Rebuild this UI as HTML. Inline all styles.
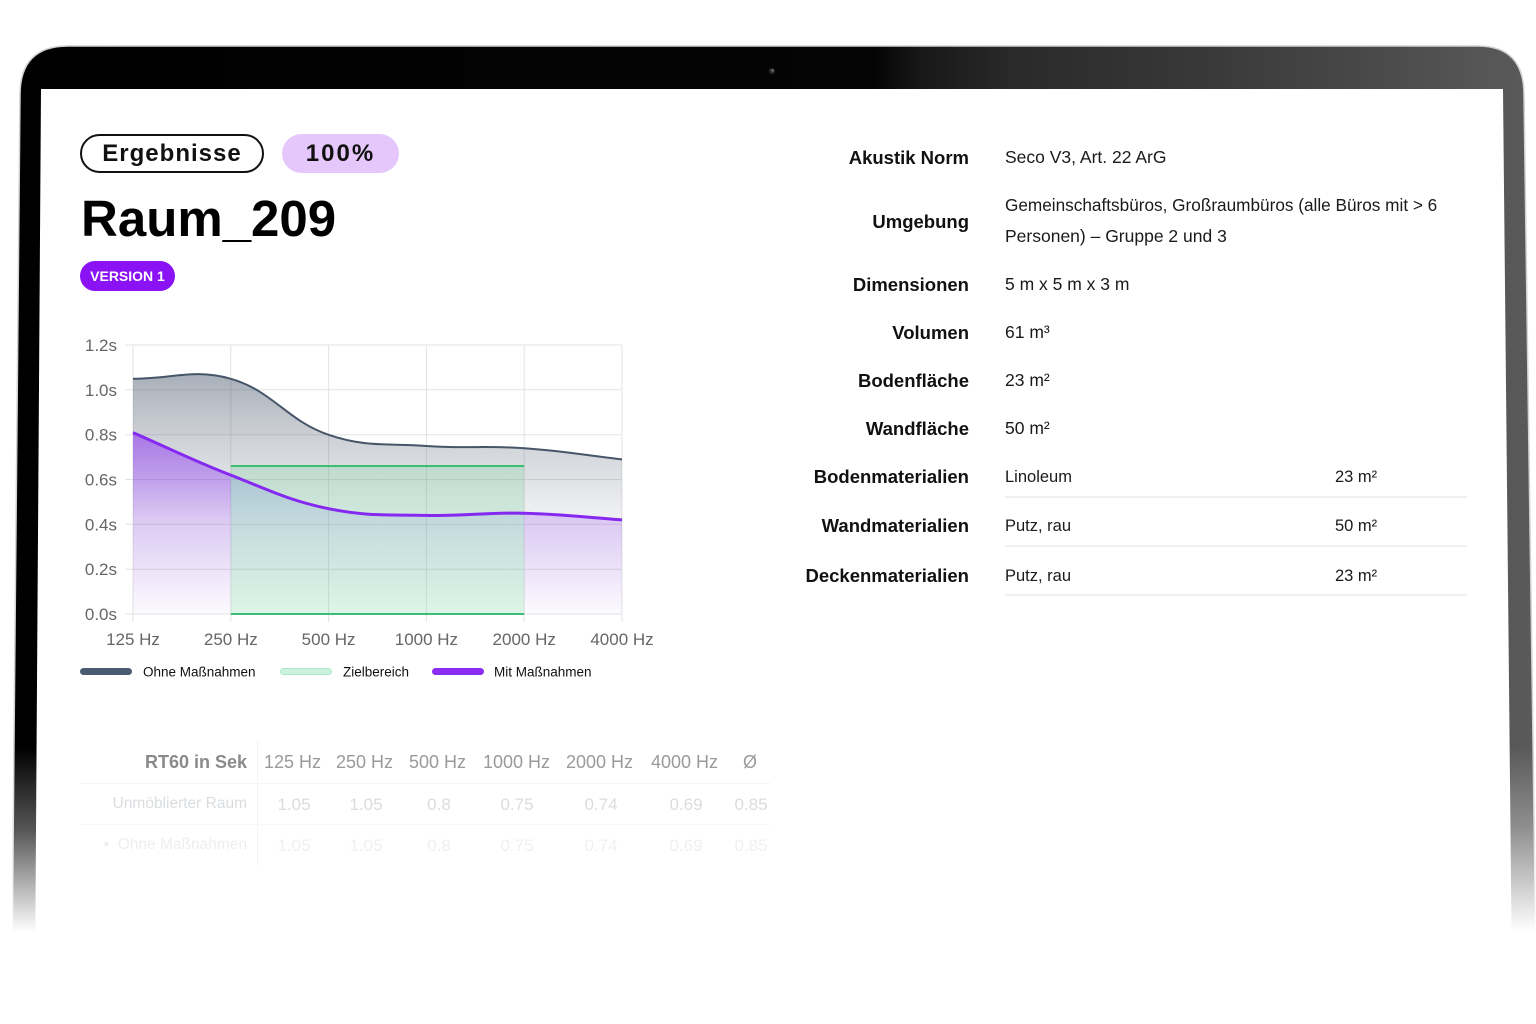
<!DOCTYPE html>
<html>
<head>
<meta charset="utf-8">
<style>
  html,body{margin:0;padding:0;background:#fff;}
  body{width:1536px;height:1024px;position:relative;overflow:hidden;font-family:"Liberation Sans",sans-serif;color:#111;}
  .a{position:absolute;white-space:nowrap;}
  .lbl{position:absolute;right:567px;text-align:right;font-weight:bold;font-size:18.5px;line-height:18.5px;color:#111;white-space:nowrap;}
  .val{position:absolute;left:1005px;font-size:17.5px;line-height:17.5px;color:#1a1a1a;white-space:nowrap;}
  .mval{position:absolute;left:1005px;font-size:16.5px;line-height:16.5px;color:#1a1a1a;white-space:nowrap;}
  .area{position:absolute;left:1335px;font-size:16.5px;line-height:16.5px;color:#1a1a1a;white-space:nowrap;}
  .div{position:absolute;left:1005px;width:462px;height:2px;background:#f0f0f0;}
  .th{position:absolute;font-size:18px;line-height:18px;color:#9a9a9a;white-space:nowrap;}
  .r1{position:absolute;font-size:17px;line-height:17px;color:#dcdcdc;white-space:nowrap;transform:translateX(-50%);}
  .r2{position:absolute;font-size:17px;line-height:17px;color:#f0f0f0;white-space:nowrap;transform:translateX(-50%);}
</style>
</head>
<body>

<!-- Laptop frame -->
<svg class="a" style="left:0;top:0" width="1536" height="1024" viewBox="0 0 1536 1024">
  <defs>
    <linearGradient id="bz" gradientUnits="userSpaceOnUse" x1="0" y1="0" x2="1536" y2="0">
      <stop offset="0" stop-color="#000"/>
      <stop offset="0.57" stop-color="#050505"/>
      <stop offset="0.60" stop-color="#181818"/>
      <stop offset="0.66" stop-color="#2a2a2a"/>
      <stop offset="0.78" stop-color="#383838"/>
      <stop offset="0.88" stop-color="#474747"/>
      <stop offset="0.97" stop-color="#575757"/>
      <stop offset="1" stop-color="#5a5a5a"/>
    </linearGradient>
    <linearGradient id="fade" gradientUnits="userSpaceOnUse" x1="0" y1="0" x2="0" y2="1024">
      <stop offset="0" stop-color="#fff"/>
      <stop offset="0.73" stop-color="#fff"/>
      <stop offset="0.81" stop-color="#aaa"/>
      <stop offset="0.86" stop-color="#555"/>
      <stop offset="0.91" stop-color="#000"/>
      <stop offset="1" stop-color="#000"/>
    </linearGradient>
    <mask id="m">
      <rect x="0" y="0" width="1536" height="1024" fill="url(#fade)"/>
    </mask>
  </defs>
  <g mask="url(#m)">
    <path d="M20,95 Q20,46 68,46 L1478,46 Q1524,46 1524,95 L1536,960 L12,960 Z" fill="url(#bz)" stroke="#d2d2d2" stroke-width="1.5"/>
  </g>
  <polygon points="41,89 1503,89 1512,980 35,980" fill="#fff"/>
  <circle cx="772" cy="71" r="3" fill="#2a2a2a"/>
  <circle cx="772.5" cy="70.5" r="1.2" fill="#777"/>
</svg>

<!-- Header -->
<div class="a" style="left:80px;top:134px;width:180px;height:35px;border:2px solid #111;border-radius:20px;text-align:center;font-weight:bold;font-size:24px;line-height:35px;letter-spacing:1px;">Ergebnisse</div>
<div class="a" style="left:282px;top:134px;width:117px;height:39px;background:#e6c7fb;border-radius:20px;text-align:center;font-weight:bold;font-size:24px;line-height:39px;letter-spacing:2px;">100%</div>
<div class="a" style="left:81px;top:193px;font-weight:bold;font-size:51px;line-height:51px;color:#000;">Raum_209</div>
<div class="a" style="left:80px;top:261px;width:95px;height:30px;background:#8a12f5;border-radius:15px;text-align:center;color:#fff;font-weight:bold;font-size:14px;line-height:30px;">VERSION 1</div>

<!-- Chart -->
<svg class="a" style="left:0;top:0" width="1536" height="1024" viewBox="0 0 1536 1024">
  <defs>
    <linearGradient id="gf" gradientUnits="userSpaceOnUse" x1="0" y1="370" x2="0" y2="614">
      <stop offset="0" stop-color="rgb(71,85,105)" stop-opacity="0.48"/>
      <stop offset="0.29" stop-color="rgb(71,85,105)" stop-opacity="0.26"/>
      <stop offset="0.61" stop-color="rgb(71,85,105)" stop-opacity="0.08"/>
      <stop offset="1" stop-color="rgb(71,85,105)" stop-opacity="0"/>
    </linearGradient>
    <linearGradient id="pf" gradientUnits="userSpaceOnUse" x1="0" y1="430" x2="0" y2="614">
      <stop offset="0" stop-color="rgb(139,44,245)" stop-opacity="0.55"/>
      <stop offset="0.49" stop-color="rgb(139,44,245)" stop-opacity="0.2"/>
      <stop offset="1" stop-color="rgb(139,44,245)" stop-opacity="0.02"/>
    </linearGradient>
    <linearGradient id="bf" gradientUnits="userSpaceOnUse" x1="0" y1="470" x2="0" y2="614">
      <stop offset="0" stop-color="rgb(100,120,220)" stop-opacity="0.24"/>
      <stop offset="0.5" stop-color="rgb(100,120,220)" stop-opacity="0.1"/>
      <stop offset="1" stop-color="rgb(100,120,220)" stop-opacity="0"/>
    </linearGradient>
    <clipPath id="outside">
      <rect x="100" y="300" width="130.8" height="330"/>
      <rect x="524.2" y="300" width="120" height="330"/>
    </clipPath>
    <clipPath id="inside">
      <rect x="230.8" y="300" width="293.4" height="330"/>
    </clipPath>
  </defs>
  <!-- grid -->
  <g stroke="#e3e3e3" stroke-width="1">
    <line x1="125" y1="345" x2="622" y2="345"/>
    <line x1="125" y1="389.8" x2="622" y2="389.8"/>
    <line x1="125" y1="434.7" x2="622" y2="434.7"/>
    <line x1="125" y1="479.5" x2="622" y2="479.5"/>
    <line x1="125" y1="524.3" x2="622" y2="524.3"/>
    <line x1="125" y1="569.2" x2="622" y2="569.2"/>
    <line x1="125" y1="614" x2="622" y2="614"/>
    <line x1="133" y1="345" x2="133" y2="622"/>
    <line x1="230.8" y1="345" x2="230.8" y2="622"/>
    <line x1="328.6" y1="345" x2="328.6" y2="622"/>
    <line x1="426.4" y1="345" x2="426.4" y2="622"/>
    <line x1="524.2" y1="345" x2="524.2" y2="622"/>
    <line x1="622" y1="345" x2="622" y2="622"/>
  </g>
  <!-- gray fill -->
  <path d="M133,378.8 C172.1,378.8 194.5,368.4 230.8,378.8 C272.7,390.8 286.8,420.5 328.6,434.8 C365.1,447.3 387.2,443.3 426.4,446 C465.4,448.7 485.2,445.5 524.2,448.2 C563.4,450.9 582.9,454.9 622,459.4 L622,614 L133,614 Z" fill="url(#gf)"/>
  <!-- green target -->
  <rect x="230.8" y="466" width="293.4" height="148" fill="rgb(80,200,130)" fill-opacity="0.19"/>
  <!-- purple fill (outside target) -->
  <path clip-path="url(#outside)" d="M133,432.6 C172.1,449.6 191.1,459.7 230.8,475.1 C269.3,490.1 288.4,500.4 328.6,508.7 C366.7,516.5 387.3,514.5 426.4,515.4 C465.5,516.3 485.1,512.3 524.2,513.2 C563.3,514.1 582.9,517.2 622,519.9 L622,614 L133,614 Z" fill="url(#pf)"/>
  <!-- bluish fill (inside target) -->
  <path clip-path="url(#inside)" d="M133,432.6 C172.1,449.6 191.1,459.7 230.8,475.1 C269.3,490.1 288.4,500.4 328.6,508.7 C366.7,516.5 387.3,514.5 426.4,515.4 C465.5,516.3 485.1,512.3 524.2,513.2 C563.3,514.1 582.9,517.2 622,519.9 L622,614 L133,614 Z" fill="url(#bf)"/>
  <!-- lines -->
  <g stroke="#3dbd74" stroke-width="2">
    <line x1="230.8" y1="466" x2="524.2" y2="466"/>
    <line x1="230.8" y1="614" x2="524.2" y2="614"/>
  </g>
  <path d="M133,378.8 C172.1,378.8 194.5,368.4 230.8,378.8 C272.7,390.8 286.8,420.5 328.6,434.8 C365.1,447.3 387.2,443.3 426.4,446 C465.4,448.7 485.2,445.5 524.2,448.2 C563.4,450.9 582.9,454.9 622,459.4" fill="none" stroke="#475569" stroke-width="2"/>
  <path d="M133,432.6 C172.1,449.6 191.1,459.7 230.8,475.1 C269.3,490.1 288.4,500.4 328.6,508.7 C366.7,516.5 387.3,514.5 426.4,515.4 C465.5,516.3 485.1,512.3 524.2,513.2 C563.3,514.1 582.9,517.2 622,519.9" fill="none" stroke="#8529f0" stroke-width="3"/>
  <!-- y labels -->
  <g font-family="Liberation Sans, sans-serif" font-size="17" fill="#666" text-anchor="end">
    <text x="117" y="351">1.2s</text>
    <text x="117" y="395.8">1.0s</text>
    <text x="117" y="440.7">0.8s</text>
    <text x="117" y="485.5">0.6s</text>
    <text x="117" y="530.3">0.4s</text>
    <text x="117" y="575.2">0.2s</text>
    <text x="117" y="620">0.0s</text>
  </g>
  <g font-family="Liberation Sans, sans-serif" font-size="17" fill="#666" text-anchor="middle">
    <text x="133" y="645">125 Hz</text>
    <text x="230.8" y="645">250 Hz</text>
    <text x="328.6" y="645">500 Hz</text>
    <text x="426.4" y="645">1000 Hz</text>
    <text x="524.2" y="645">2000 Hz</text>
    <text x="622" y="645">4000 Hz</text>
  </g>
  <!-- legend -->
  <rect x="80" y="668" width="52" height="7" rx="3.5" fill="#4a5a70"/>
  <rect x="280.5" y="668.5" width="51" height="6" rx="3" fill="#c9f3de" stroke="#aee8c9" stroke-width="1"/>
  <rect x="432" y="668" width="52" height="7" rx="3.5" fill="#8a2cf2"/>
  <g font-family="Liberation Sans, sans-serif" font-size="13.5" fill="#111">
    <text x="143" y="676.5">Ohne Maßnahmen</text>
    <text x="343" y="676.5">Zielbereich</text>
    <text x="494" y="676.5">Mit Maßnahmen</text>
  </g>
</svg>

<!-- Right panel -->
<div class="lbl" style="top:148.75px">Akustik Norm</div>
<div class="val" style="top:149.25px">Seco V3, Art. 22 ArG</div>

<div class="lbl" style="top:212.75px">Umgebung</div>
<div class="val" style="top:197.25px;font-size:17.2px;">Gemeinschaftsbüros, Großraumbüros (alle Büros mit &gt; 6</div>
<div class="val" style="top:228.25px">Personen) – Gruppe 2 und 3</div>

<div class="lbl" style="top:275.75px">Dimensionen</div>
<div class="val" style="top:276.25px">5 m x 5 m x 3 m</div>

<div class="lbl" style="top:323.75px">Volumen</div>
<div class="val" style="top:324.25px">61 m³</div>

<div class="lbl" style="top:371.75px">Bodenfläche</div>
<div class="val" style="top:372.25px">23 m²</div>

<div class="lbl" style="top:419.75px">Wandfläche</div>
<div class="val" style="top:420.25px">50 m²</div>

<div class="lbl" style="top:467.75px">Bodenmaterialien</div>
<div class="mval" style="top:468.75px">Linoleum</div>
<div class="area" style="top:468.75px">23 m²</div>
<div class="div" style="top:496px"></div>

<div class="lbl" style="top:516.75px">Wandmaterialien</div>
<div class="mval" style="top:517.75px">Putz, rau</div>
<div class="area" style="top:517.75px">50 m²</div>
<div class="div" style="top:545px"></div>

<div class="lbl" style="top:566.75px">Deckenmaterialien</div>
<div class="mval" style="top:567.75px">Putz, rau</div>
<div class="area" style="top:567.75px">23 m²</div>
<div class="div" style="top:594px"></div>

<!-- Faded table -->
<div class="a" style="left:257px;top:740px;width:1px;height:125px;background:#f3f4f6;"></div>
<div class="a" style="left:80px;top:783px;width:690px;height:1px;background:#f4f5f7;"></div>
<div class="a" style="left:80px;top:824px;width:690px;height:1px;background:#f7f8fa;"></div>

<div class="a" style="right:1289px;top:753px;font-weight:bold;font-size:18px;line-height:18px;color:#8a8a8a;text-align:right;">RT60 in Sek</div>
<div class="th" style="left:264px;top:753px">125 Hz</div>
<div class="th" style="left:336px;top:753px">250 Hz</div>
<div class="th" style="left:409px;top:753px">500 Hz</div>
<div class="th" style="left:483px;top:753px">1000 Hz</div>
<div class="th" style="left:566px;top:753px">2000 Hz</div>
<div class="th" style="left:651px;top:753px">4000 Hz</div>
<div class="th" style="left:743px;top:753px">Ø</div>

<div class="a" style="right:1289px;top:796px;font-size:15.5px;line-height:15.5px;color:#dadde0;text-align:right;">Unmöblierter Raum</div>
<div class="r1" style="left:294px;top:795.5px">1.05</div>
<div class="r1" style="left:366px;top:795.5px">1.05</div>
<div class="r1" style="left:439px;top:795.5px">0.8</div>
<div class="r1" style="left:517px;top:795.5px">0.75</div>
<div class="r1" style="left:601px;top:795.5px">0.74</div>
<div class="r1" style="left:686px;top:795.5px">0.69</div>
<div class="r1" style="left:751px;top:795.5px">0.85</div>

<div class="a" style="right:1289px;top:837px;font-size:15.5px;line-height:15.5px;color:#eeeeee;text-align:right;">•&nbsp;&nbsp;Ohne Maßnahmen</div>
<div class="r2" style="left:294px;top:836.5px">1.05</div>
<div class="r2" style="left:366px;top:836.5px">1.05</div>
<div class="r2" style="left:439px;top:836.5px">0.8</div>
<div class="r2" style="left:517px;top:836.5px">0.75</div>
<div class="r2" style="left:601px;top:836.5px">0.74</div>
<div class="r2" style="left:686px;top:836.5px">0.69</div>
<div class="r2" style="left:751px;top:836.5px">0.85</div>

</body>
</html>
